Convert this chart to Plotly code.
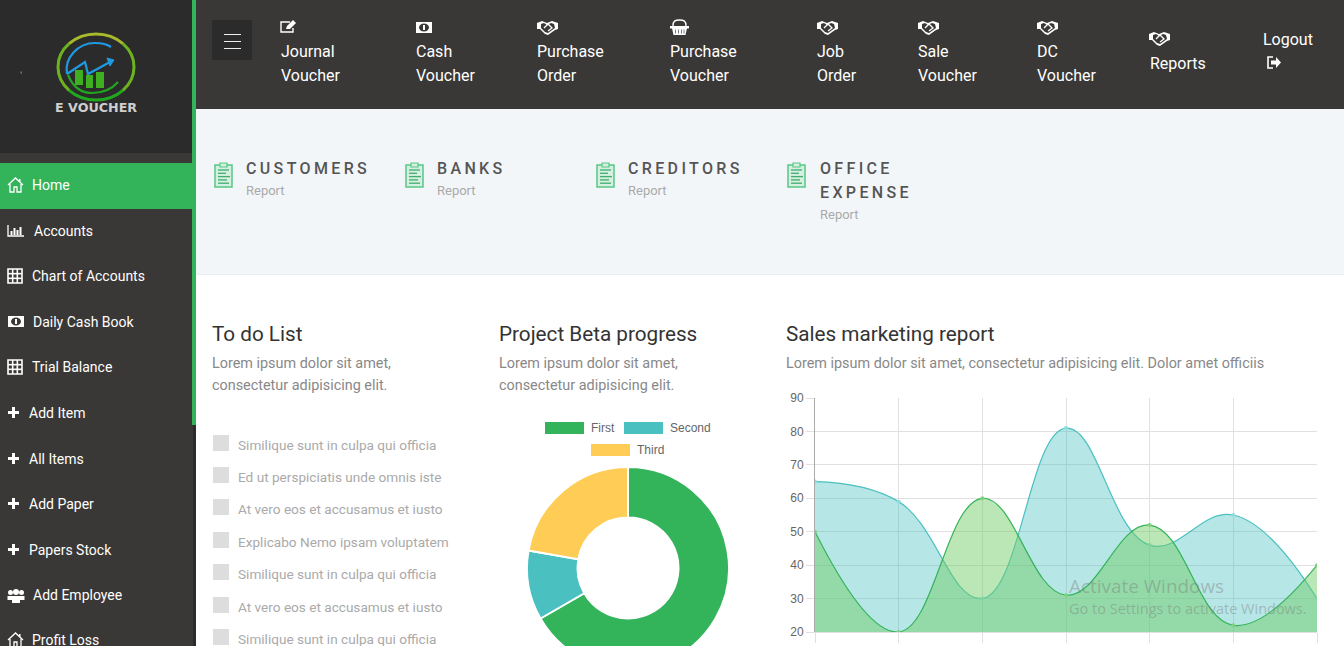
# Dashboard screenshot rebuilt in plotly: page furniture is shapes and annotations on a pixel axis
import plotly.graph_objects as go

PAGE_W = 1344
PAGE_H = 720  # taller than the window, the donut runs off the bottom of the page

# chart data
months = ["Jan", "Feb", "Mar", "Apr", "May", "Jun", "Jul"]
teal_values = [65, 59, 30, 81, 46, 55, 30]
green_values = [50, 20, 60, 31, 52, 22, 40]
y_ticks = [20, 30, 40, 50, 60, 70, 80, 90]
donut_labels = ["First", "Second", "Third"]
donut_values = [300, 50, 100]
donut_colors = ["#33b35a", "#4bc0c0", "#ffcd56"]

# page text
top_nav = [("Journal", "Voucher", 281), ("Cash", "Voucher", 416), ("Purchase", "Order", 537),
           ("Purchase", "Voucher", 670), ("Job", "Order", 817), ("Sale", "Voucher", 918),
           ("DC", "Voucher", 1037)]
side_nav = [("Home", 32, 185), ("Accounts", 34, 231), ("Chart of Accounts", 32, 276),
            ("Daily Cash Book", 33, 322), ("Trial Balance", 32, 367), ("Add Item", 29, 413),
            ("All Items", 29, 459), ("Add Paper", 29, 504), ("Papers Stock", 29, 550),
            ("Add Employee", 33, 595), ("Profit Loss", 32, 640)]
report_titles = [("CUSTOMERS", 246), ("BANKS", 437), ("CREDITORS", 628)]
todo_items = ["Similique sunt in culpa qui officia", "Ed ut perspiciatis unde omnis iste",
              "At vero eos et accusamus et iusto", "Explicabo Nemo ipsam voluptatem",
              "Similique sunt in culpa qui officia", "At vero eos et accusamus et iusto",
              "Similique sunt in culpa qui officia"]
todo_rows = [445, 477, 509, 542, 574, 607, 639]

DARK = "#3a3836"
DARKER = "#2b2b2b"
GREEN = "#33b35a"

shapes = []
notes = []


def rect(x0, y0, x1, y1, color, line=None, width=1):
    shapes.append(dict(type="rect", xref="x", yref="y", x0=x0, y0=y0, x1=x1, y1=y1, layer="below",
                       fillcolor=color, line=dict(color=line, width=width if line else 0)))


def ellipse(x0, y0, x1, y1, color, line=None, width=1):
    shapes.append(dict(type="circle", xref="x", yref="y", x0=x0, y0=y0, x1=x1, y1=y1, layer="below",
                       fillcolor=color, line=dict(color=line, width=width if line else 0)))


def path(d, line=None, width=1.2, color="rgba(0,0,0,0)"):
    shapes.append(dict(type="path", xref="x", yref="y", path=d, layer="below", fillcolor=color,
                       line=dict(color=line, width=width if line else 0)))


def text(x, y, s, size=14.4, color="#888888", font="Roboto", weight=400, anchor="left"):
    # annotations sit 1px to the right of the asked position when left anchored
    notes.append(dict(xref="x", yref="y", x=x - 1 if anchor == "left" else x, y=y, text=s, showarrow=False,
                      xanchor=anchor, yanchor="middle", align=anchor, borderpad=0,
                      font=dict(family=font, size=size, color=color, weight=weight)))


# icons, x and y are the top left corner
def plus_icon(x, y):
    rect(x, y + 4, x + 11, y + 7, "white")
    rect(x + 4, y, x + 7, y + 11, "white")


def grid_icon(x, y):
    rect(x, y, x + 14, y + 14, "rgba(0,0,0,0)", "white", 1.6)
    for i in (1, 2):
        path(f"M{x + i * 14 / 3},{y} L{x + i * 14 / 3},{y + 14}", "white", 1.6)
        path(f"M{x},{y + i * 14 / 3} L{x + 14},{y + i * 14 / 3}", "white", 1.6)


def home_icon(x, y):
    path(f"M{x},{y + 7} L{x + 7.5},{y} L{x + 15},{y + 7}", "white", 1.3)
    rect(x + 11, y + 1, x + 12.5, y + 4, "white")
    path(f"M{x + 2},{y + 6} L{x + 2},{y + 14} L{x + 6},{y + 14} L{x + 6},{y + 9} "
         f"L{x + 9},{y + 9} L{x + 9},{y + 14} L{x + 13},{y + 14} L{x + 13},{y + 6}", "white", 1.3)


def bars_icon(x, y):
    path(f"M{x},{y} L{x},{y + 11} L{x + 16},{y + 11}", "white", 1.3)
    for off, top in ((2.5, 6), (5.5, 3), (8.5, 5), (11.5, 2)):
        rect(x + off, y + top, x + off + 2, y + 10, "white")


def money_icon(x, y):
    rect(x, y, x + 16, y + 11, "white")
    ellipse(x + 3, y + 1.5, x + 13, y + 9.5, DARK)
    rect(x + 7, y + 3, x + 9, y + 8, "white")


def shake_icon(x, y):
    path(f"M{x},{y + 2} L{x + 5},{y} L{x + 10},{y + 2} L{x + 15},{y} L{x + 21},{y + 2} L{x + 21},{y + 8} "
         f"L{x + 18},{y + 9} L{x + 11},{y + 14} L{x + 8},{y + 13} L{x + 3},{y + 8} L{x},{y + 8} Z", None, 1, "white")
    path(f"M{x + 4},{y + 3} L{x + 7},{y + 2} L{x + 10},{y + 4} L{x + 14},{y + 2} L{x + 17},{y + 3} L{x + 18},{y + 7} "
         f"L{x + 11},{y + 12} L{x + 8},{y + 11} L{x + 4},{y + 7} Z", None, 1, DARK)
    path(f"M{x + 7},{y + 7} L{x + 11},{y + 3} L{x + 15},{y + 7} L{x + 11},{y + 10}", "white", 1.3)


def edit_icon(x, y):
    path(f"M{x + 12},{y + 8} L{x + 12},{y + 12} L{x},{y + 12} L{x},{y + 2} L{x + 9},{y + 2}", "white", 1.4)
    path(f"M{x + 5},{y + 9} L{x + 6},{y + 6} L{x + 12},{y} L{x + 15},{y + 3} L{x + 9},{y + 9} Z", None, 1, "white")


def basket_icon(x, y):
    path(f"M{x + 3},{y + 7} C{x + 3},{y + 2} {x + 5},{y + 1} {x + 9.5},{y + 1} "
         f"C{x + 14},{y + 1} {x + 16},{y + 2} {x + 16},{y + 7}", "white", 1.4)
    rect(x, y + 7, x + 19, y + 9.5, "white")
    path(f"M{x + 2},{y + 9} L{x + 3.5},{y + 16} L{x + 15.5},{y + 16} L{x + 17},{y + 9} Z", None, 1, "white")
    for off in (5.5, 8.5, 11.5, 14):
        path(f"M{x + off},{y + 10.5} L{x + off},{y + 14.5}", "#6a7c8c", 1)


def users_icon(x, y):
    for cx in (2.5, 13.5):
        ellipse(x + cx - 2.5, y + 1, x + cx + 2.5, y + 6, "white")
        rect(x + cx - 3, y + 7, x + cx + 3, y + 11, "white")
    ellipse(x + 5, y, x + 11, y + 6, "white")
    rect(x + 4, y + 7, x + 12, y + 14, "white")


def logout_icon(x, y):
    path(f"M{x + 5},{y} L{x},{y} L{x},{y + 11} L{x + 5},{y + 11}", "white", 1.6)
    path(f"M{x + 3},{y + 3.5} L{x + 8},{y + 3.5} L{x + 8},{y} L{x + 13},{y + 5.5} L{x + 8},{y + 11} "
         f"L{x + 8},{y + 7.5} L{x + 3},{y + 7.5} Z", None, 1, "white")


def clip_icon(x, y):
    rect(x, y + 2, x + 17, y + 24, "#d5efe0", "#58c787", 1.5)
    rect(x + 5, y, x + 12, y + 4, "#d5efe0", "#58c787", 1.2)
    for i, w in enumerate((11, 8, 12, 9, 11)):
        path(f"M{x + 3},{y + 7 + i * 3.3} L{x + 3 + w},{y + 7 + i * 3.3}", "#3fae6e", 1.3)


# page panels
rect(0, 0, 1344, 109, DARK)
rect(0, 0, 196, 720, DARK)
rect(0, 0, 192, 153, DARKER)
rect(192, 0, 196, 425, GREEN)
rect(193, 425, 196, 720, DARKER)
rect(0, 163, 196, 209, GREEN)
rect(196, 109, 1344, 274, "#f3f6f9")
rect(196, 274, 1344, 275, "#e9edf0")

# logo, the ring is an ellipse split into four arcs so it can change colour on the way round
rect(20.5, 71.5, 22, 73.5, "#777777")
path("M69.1,43.7 C84,30.8 108,30.8 122.9,43.7", "#a9b92c", 3)
path("M69.1,43.7 C54.3,56.6 54.3,77.4 69.1,90.3", "#6db320", 3)
path("M122.9,43.7 C137.7,56.6 137.7,77.4 122.9,90.3", "#6db320", 3)
path("M69.1,90.3 C84,103.2 108,103.2 122.9,90.3", "#20a81f", 3)
path("M67,74 C64,58 78,43 95,43 C102,43 107,44 111,47", "#1e9be0", 2.2)
path("M67,74 L85,62 L88,74 L110,62", "#1e9be0", 2.2)
path("M107,58 L114,60 L110,66 Z", "#1e9be0", 1, "#1e9be0")
path("M68,75 C73,87 81,93 92,93 C103,93 112,89 118,82", "#22a51f", 2.2)
for bx, wide, top, bottom in ((75, 8, 70, 85), (86, 7, 75, 88), (96, 8, 72, 88)):
    rect(bx, top, bx + wide, bottom, "#3fae20")
text(96, 107, "E VOUCHER", size=12.7, color="#cfcfcf", font="DejaVu Sans", weight=700, anchor="center")

# hamburger
rect(212, 20, 252, 60, DARKER)
for ly in (34, 41, 48):
    rect(224, ly, 241, ly + 1, "#eeeeee")

# top nav
for (first, second, nx), icon, iy in zip(top_nav, (edit_icon, money_icon, shake_icon, basket_icon,
                                                   shake_icon, shake_icon, shake_icon),
                                         (20, 22, 21, 19, 21, 21, 21)):
    text(nx, 51, first, size=16, color="white")
    text(nx, 75, second, size=16, color="white")
    icon(nx, iy)
text(1150, 63, "Reports", size=16, color="white")
shake_icon(1149, 32)
text(1263, 39, "Logout", size=16, color="white")
logout_icon(1268, 57)

# side nav
side_icons = [home_icon, bars_icon, grid_icon, money_icon, grid_icon, plus_icon, plus_icon,
              plus_icon, plus_icon, users_icon, home_icon]
for (label, nx, ny), icon in zip(side_nav, side_icons):
    text(nx, ny, label, size=14, color="white")
    icon(8, ny - 7 if icon in (home_icon, grid_icon) else ny - 6)

# report strip
for title, tx in report_titles:
    text(tx, 168, title, size=16, color="#555555", weight=500)
    text(tx, 190, "Report", size=13, color="#aaaaaa")
    clip_icon(tx - 31, 163)
text(820, 168, "OFFICE", size=16, color="#555555", weight=500)
text(820, 192, "EXPENSE", size=16, color="#555555", weight=500)
text(820, 214, "Report", size=13, color="#aaaaaa")
clip_icon(788, 163)

# headings
text(212, 334, "To do List", size=20.7, color="#333333")
text(212, 363, "Lorem ipsum dolor sit amet,")
text(212, 385, "consectetur adipisicing elit.")
text(499, 334, "Project Beta progress", size=20.7, color="#333333")
text(499, 363, "Lorem ipsum dolor sit amet,")
text(499, 385, "consectetur adipisicing elit.")
text(786, 334, "Sales marketing report", size=20.7, color="#333333")
text(786, 363, "Lorem ipsum dolor sit amet, consectetur adipisicing elit. Dolor amet officiis")

# to do list
for item, ry in zip(todo_items, todo_rows):
    rect(213, ry - 10, 229, ry + 6, "#dddddd")
    text(238, ry, item, size=13.6, color="#aaaaaa")

# donut legend
for label, color, sx, sy in zip(donut_labels, donut_colors, (545, 624, 591), (428, 428, 450)):
    rect(sx, sy - 6, sx + 39, sy + 6, color)
    text(sx + 46, sy, label, size=12, color="#666666", font="Liberation Sans")

fig = go.Figure()

# pixel axis that carries all the shapes, drawn first so the chart sits on top
fig.update_layout(xaxis=dict(domain=[0, 1], range=[0, PAGE_W], visible=False, fixedrange=True),
                  yaxis=dict(domain=[0, 1], range=[PAGE_H, 0], visible=False, fixedrange=True))
fig.add_trace(go.Scatter(x=[0], y=[0], mode="markers", marker=dict(opacity=0), showlegend=False,
                         hoverinfo="skip", xaxis="x", yaxis="y"))

# sales chart
fig.add_trace(go.Scatter(x=months, y=teal_values, xaxis="x2", yaxis="y2", mode="lines+markers",
                         line=dict(color="#4bc0c0", width=1.2, shape="spline", smoothing=1.2),
                         marker=dict(size=4, color="#8fdcdc"), fill="tozeroy",
                         fillcolor="rgba(75,192,192,0.4)", showlegend=False))
fig.add_trace(go.Scatter(x=months, y=green_values, xaxis="x2", yaxis="y2", mode="lines+markers",
                         line=dict(color="#33b35a", width=1.2, shape="spline", smoothing=1.2),
                         marker=dict(size=4, color="#7fd07f"), fill="tozeroy",
                         fillcolor="rgba(110,205,100,0.48)", showlegend=False))

fig.update_layout(
    xaxis2=dict(domain=[815 / PAGE_W, 1317 / PAGE_W], anchor="y2", type="category", range=[0, 6],
                categoryorder="array", categoryarray=months, showgrid=True, gridcolor="#e0e0e0",
                ticks="outside", ticklen=10, tickcolor="#e0e0e0", showline=True, linecolor="#e0e0e0",
                tickfont=dict(family="Liberation Sans", size=12, color="#666666"), fixedrange=True),
    yaxis2=dict(domain=[1 - 632 / PAGE_H, 1 - 398 / PAGE_H], anchor="x2", range=[20, 90],
                tickvals=y_ticks, showgrid=True, gridcolor="#e0e0e0", zeroline=False,
                ticks="outside", ticklen=8, tickcolor="#e0e0e0", showline=True, linecolor="#aaaaaa",
                tickfont=dict(family="Liberation Sans", size=12, color="#666666"), fixedrange=True),
)

# project donut
fig.add_trace(go.Pie(labels=donut_labels, values=donut_values, hole=0.5, sort=False, direction="clockwise",
                     rotation=0, textinfo="none", showlegend=False,
                     marker=dict(colors=donut_colors, line=dict(color="white", width=2)),
                     domain=dict(x=[527 / PAGE_W, 729 / PAGE_W], y=[1 - 669 / PAGE_H, 1 - 467 / PAGE_H])))

# windows watermark
text(1069, 586, "Activate Windows", size=18.9, color="rgba(120,120,120,0.42)", font="Open Sans")
text(1069, 608, "Go to Settings to activate Windows.", size=14.5, color="rgba(120,120,120,0.42)", font="Open Sans")

# template none, the default one has automargin on and that shrinks the whole page
fig.update_layout(template="none", width=PAGE_W, height=PAGE_H, margin=dict(l=0, r=0, t=0, b=0, pad=0),
                  paper_bgcolor="white", plot_bgcolor="rgba(0,0,0,0)", shapes=shapes, annotations=notes)

# plotly has no letter spacing, so the report titles get it here; the page also has to lose its margin
post = """
document.documentElement.style.overflow = 'hidden';
document.body.style.margin = '0';
document.body.style.overflow = 'hidden';
document.querySelectorAll('.annotation-text').forEach(function (el) {
  if (['CUSTOMERS', 'BANKS', 'CREDITORS', 'OFFICE', 'EXPENSE'].indexOf(el.textContent) >= 0) {
    el.style.letterSpacing = '3.35px';
  }
});
"""
fig.write_html("out.html", post_script=post, config=dict(displayModeBar=False))
